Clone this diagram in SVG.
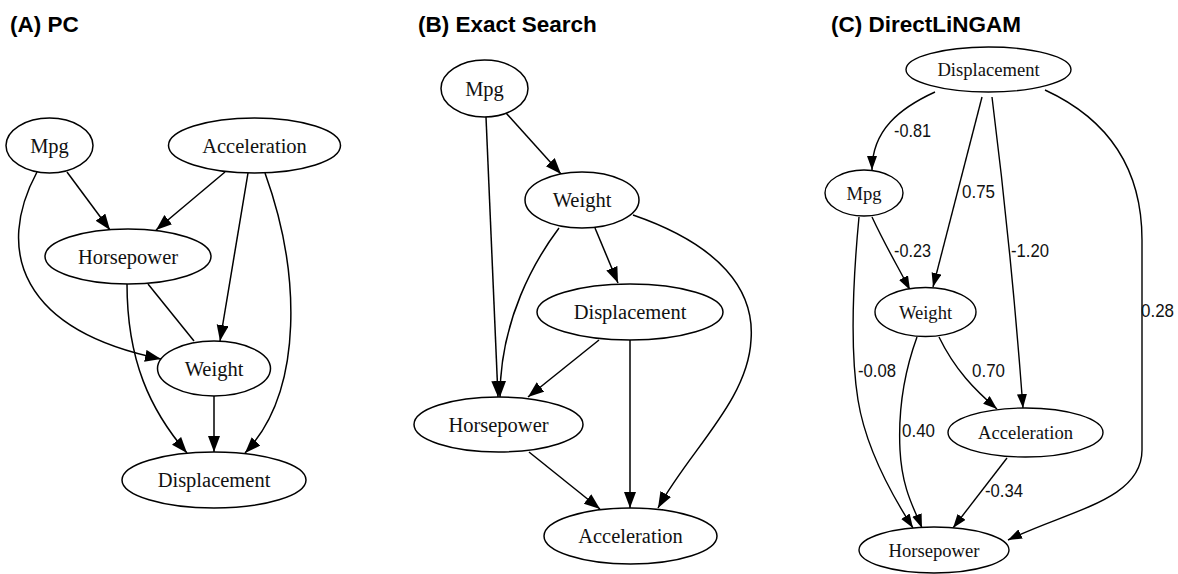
<svg xmlns="http://www.w3.org/2000/svg" width="1178" height="574" viewBox="0 0 1178 574">
  <defs>
    <style>
      .title { font-family: "Liberation Sans", Arial, sans-serif; font-weight: bold; font-size: 22.5px; fill: #000; }
      .node ellipse { fill: #fff; stroke: #000; stroke-width: 1.5; }
      .node text { font-family: "Liberation Serif", "Times New Roman", serif; font-size: 20.5px; text-anchor: middle; fill: #111; }
      .small ellipse { stroke-width: 1.4; }
      .small text { font-size: 18.6px; }
      .edge { fill: none; stroke: #000; stroke-width: 1.5; }
      .edge-c { fill: none; stroke: #000; stroke-width: 1.4; }
      .lbl { font-family: "Liberation Sans Narrow", "Liberation Sans", Arial, sans-serif; font-size: 18.5px; fill: #111; }
    </style>
    <marker id="arr" markerUnits="userSpaceOnUse" markerWidth="17" markerHeight="13" refX="16" refY="6" orient="auto">
      <path d="M0,0 L16,6 L0,12 z" fill="#000"/>
    </marker>
    <marker id="arr-s" markerUnits="userSpaceOnUse" markerWidth="15" markerHeight="11" refX="14" refY="5" orient="auto">
      <path d="M0,0 L14,5 L0,10 z" fill="#000"/>
    </marker>
  </defs>
  <rect width="1178" height="574" fill="#fff"/>

  <!-- panel titles -->
  <text class="title" x="10" y="32">(A) PC</text>
  <text class="title" x="418" y="32">(B) Exact Search</text>
  <text class="title" x="831" y="32">(C) DirectLiNGAM</text>

  <!-- (A) PC: connectors -->
  <g id="edges-a">
    <path class="edge" d="M67,172 L110,230" marker-end="url(#arr)"/>
    <path class="edge" d="M225,172 L156,230" marker-end="url(#arr)"/>
    <path class="edge" d="M37,172 C-5,250 20,330 161,359" marker-end="url(#arr)"/>
    <path class="edge" d="M148,284 L194,341"/>
    <path class="edge" d="M248,173 L220,341" marker-end="url(#arr)"/>
    <path class="edge" d="M265,173 C300,270 305,390 245,453" marker-end="url(#arr)"/>
    <path class="edge" d="M127,284 C127,360 150,410 187,453" marker-end="url(#arr)"/>
    <path class="edge" d="M214,396 L214,452" marker-end="url(#arr)"/>
  </g>

  <!-- (A) PC: nodes -->
  <g id="a-mpg" class="node"><ellipse cx="49.5" cy="145.5" rx="43.5" ry="27.5"/><text x="49.5" y="152.5">Mpg</text></g>
  <g id="a-acceleration" class="node"><ellipse cx="254.5" cy="145.5" rx="86" ry="27.5"/><text x="254.5" y="152.5">Acceleration</text></g>
  <g id="a-horsepower" class="node"><ellipse cx="128" cy="256.5" rx="83" ry="27.5"/><text x="128" y="263.5">Horsepower</text></g>
  <g id="a-weight" class="node"><ellipse cx="214" cy="368.5" rx="56.5" ry="27.5"/><text x="214" y="375.5">Weight</text></g>
  <g id="a-displacement" class="node"><ellipse cx="214" cy="480" rx="92" ry="28"/><text x="214" y="487">Displacement</text></g>

  <!-- (B) Exact Search: connectors -->
  <g id="edges-b">
    <path class="edge" d="M506,113 L561,174" marker-end="url(#arr)"/>
    <path class="edge" d="M486,117 L498,397" marker-end="url(#arr)"/>
    <path class="edge" d="M595,228 L618,283" marker-end="url(#arr)"/>
    <path class="edge" d="M559,228 C535,260 500,320 500,397" marker-end="url(#arr)"/>
    <path class="edge" d="M633,215 C720,245 755,290 751,340 C748,400 690,450 658,508" marker-end="url(#arr)"/>
    <path class="edge" d="M599,340 L528,397" marker-end="url(#arr)"/>
    <path class="edge" d="M630,340 L630,508" marker-end="url(#arr)"/>
    <path class="edge" d="M529,452 L600,509" marker-end="url(#arr)"/>
  </g>

  <!-- (B) Exact Search: nodes -->
  <g id="b-mpg" class="node"><ellipse cx="484.5" cy="88.5" rx="43.5" ry="28.5"/><text x="484.5" y="95.5">Mpg</text></g>
  <g id="b-weight" class="node"><ellipse cx="582" cy="200" rx="57" ry="28"/><text x="582" y="207">Weight</text></g>
  <g id="b-displacement" class="node"><ellipse cx="630" cy="312" rx="93" ry="28"/><text x="630" y="319">Displacement</text></g>
  <g id="b-horsepower" class="node"><ellipse cx="498.5" cy="424.5" rx="84.5" ry="27.5"/><text x="498.5" y="431.5">Horsepower</text></g>
  <g id="b-acceleration" class="node"><ellipse cx="630.5" cy="536" rx="86.5" ry="28"/><text x="630.5" y="543">Acceleration</text></g>

  <!-- (C) DirectLiNGAM: weighted connectors -->
  <g id="edges-c">
    <path class="edge-c" d="M935,92 C900,108 872,130 872,170" marker-end="url(#arr-s)"/>
    <path class="edge-c" d="M982,97 L933,287" marker-end="url(#arr-s)"/>
    <path class="edge-c" d="M992,97 C1005,200 1015,300 1023,408" marker-end="url(#arr-s)"/>
    <path class="edge-c" d="M1045,90 C1110,120 1142,170 1142,240 L1142,450 C1142,500 1070,510 1008,540" marker-end="url(#arr-s)"/>
    <path class="edge-c" d="M872,217 C885,245 897,265 910,290" marker-end="url(#arr-s)"/>
    <path class="edge-c" d="M859,217 C853,280 850,350 858,400 C866,450 895,500 913,528" marker-end="url(#arr-s)"/>
    <path class="edge-c" d="M917,337 C905,370 898,410 900,450 C902,490 915,510 922,528" marker-end="url(#arr-s)"/>
    <path class="edge-c" d="M939,337 C955,370 975,390 997,409" marker-end="url(#arr-s)"/>
    <path class="edge-c" d="M1007,458 L953,528" marker-end="url(#arr-s)"/>
    <text class="lbl" x="894" y="137" textLength="37" lengthAdjust="spacingAndGlyphs">-0.81</text>
    <text class="lbl" x="962" y="198" textLength="33" lengthAdjust="spacingAndGlyphs">0.75</text>
    <text class="lbl" x="894" y="257" textLength="37" lengthAdjust="spacingAndGlyphs">-0.23</text>
    <text class="lbl" x="1011" y="257" textLength="38" lengthAdjust="spacingAndGlyphs">-1.20</text>
    <text class="lbl" x="1141" y="317" textLength="33" lengthAdjust="spacingAndGlyphs">0.28</text>
    <text class="lbl" x="858" y="377" textLength="38" lengthAdjust="spacingAndGlyphs">-0.08</text>
    <text class="lbl" x="972" y="377" textLength="33" lengthAdjust="spacingAndGlyphs">0.70</text>
    <text class="lbl" x="902" y="437" textLength="33" lengthAdjust="spacingAndGlyphs">0.40</text>
    <text class="lbl" x="985" y="497" textLength="38" lengthAdjust="spacingAndGlyphs">-0.34</text>
  </g>

  <!-- (C) DirectLiNGAM: nodes -->
  <g id="c-displacement" class="node small"><ellipse cx="988.5" cy="69.5" rx="82.5" ry="22.5"/><text x="988.5" y="76">Displacement</text></g>
  <g id="c-mpg" class="node small"><ellipse cx="864" cy="193" rx="39" ry="23"/><text x="864" y="199.5">Mpg</text></g>
  <g id="c-weight" class="node small"><ellipse cx="925.5" cy="312" rx="50.5" ry="24.5"/><text x="925.5" y="318.5">Weight</text></g>
  <g id="c-acceleration" class="node small"><ellipse cx="1025.5" cy="432.5" rx="77.5" ry="24.5"/><text x="1025.5" y="439">Acceleration</text></g>
  <g id="c-horsepower" class="node small"><ellipse cx="934" cy="550" rx="75" ry="23"/><text x="934" y="556.5">Horsepower</text></g>
</svg>
